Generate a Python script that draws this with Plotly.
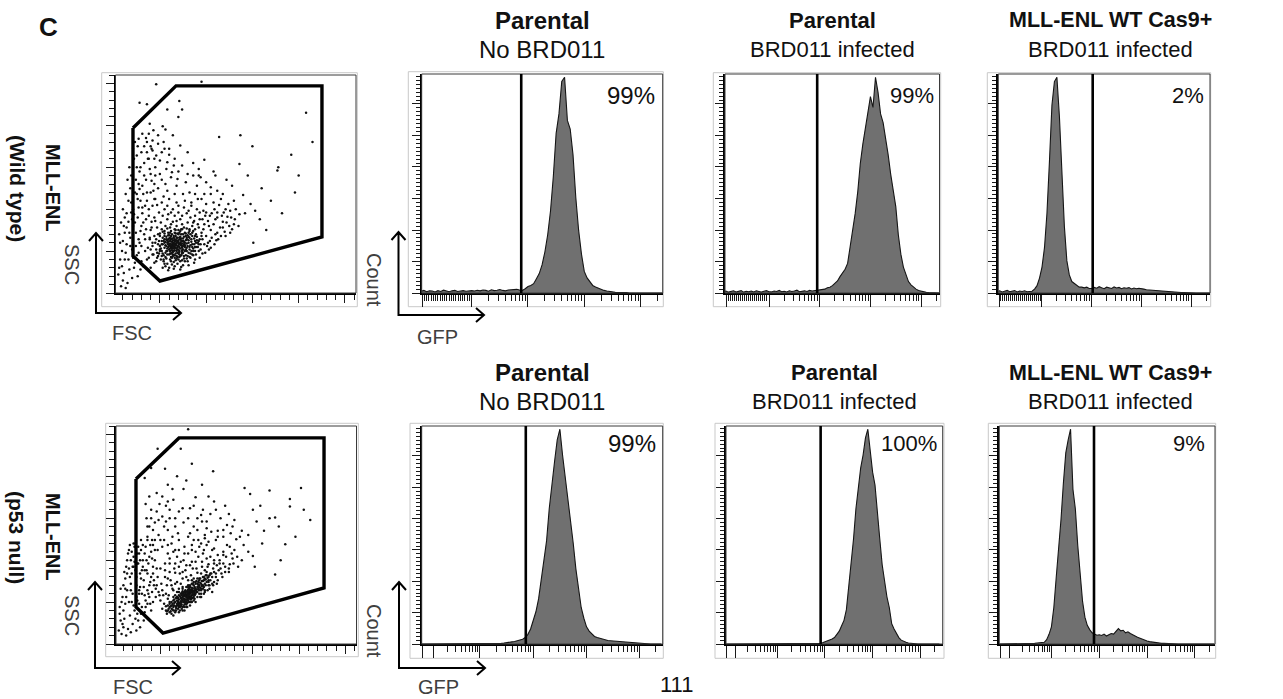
import math
import plotly.graph_objects as go

W, H = 1283, 699
FONT = "Liberation Sans, Arial, Helvetica, sans-serif"

# ------------------------------------------------------------------ data
# Dot plots: (FSC, SSC) events, in thousands
WT_EVENTS = [
    (62,55),(66,58),(70,52),(58,60),(73,57),(68,63),(64,49),(75,62),(60,52),(71,66),
    (67,54),(63,61),(77,55),(69,48),(56,57),(72,60),(65,66),(79,59),(61,47),(74,51),
    (68,57),(59,64),(76,67),(66,45),(70,59),(63,53),(81,63),(57,50),(73,70),(65,56),
    (69,61),(62,43),(78,52),(54,62),(71,55),(67,68),(60,58),(75,48),(64,63),(80,56),
    (58,46),(72,64),(66,51),(55,54),(77,60),(69,71),(63,58),(74,56),(61,62),(82,66),
    (68,50),(57,67),(70,63),(65,60),(79,50),(59,55),(73,45),(67,59),(62,68),(76,58),
    (84,61),(53,58),(71,50),(64,46),(80,69),(58,63),(69,55),(75,65),(66,62),(61,50),
    (87,65),(72,53),(56,61),(68,66),(63,42),(78,63),(60,69),(74,59),(70,47),(65,53),
    (85,58),(52,50),(83,70),(88,62),(50,56),(66,72),(72,74),(59,72),(77,72),(90,67),
    (54,45),(62,38),(70,40),(76,44),(49,62),(86,53),(81,48),(57,41),(67,39),(91,60),
    (64,57),(69,52),(71,58),(66,64),(60,56),(74,54),(67,47),(63,65),(72,67),(77,57),
    (58,53),(70,56),(65,50),(68,60),(73,62),(61,59),(75,52),(62,64),(79,64),(56,48),
    (67,62),(71,46),(64,60),(69,66),(74,49),(59,58),(78,68),(66,55),(72,58),(63,51),
    (60,65),(81,60),(68,44),(57,56),(76,61),(65,68),(70,70),(73,65),(62,47),(83,57),
    (47,42),(49,47),(51,53),(48,58),(46,64),(50,71),(53,66),(55,60),(52,44),(54,38),
    (58,35),(61,40),(65,37),(69,43),(72,38),(76,41),(80,44),(83,47),(86,50),(89,55),
    (92,58),(88,68),(85,72),(82,74),(79,77),(74,76),(70,75),(66,76),(62,74),(58,77),
    (55,71),(53,73),(57,64),(59,69),(61,66),(63,70),(67,71),(71,72),(75,70),(78,71),
    (81,67),(84,64),(87,58),(90,63),(93,64),(91,55),(88,50),(85,46),(82,43),(79,41),
    (74,39),(71,43),(68,41),(64,44),(60,46),(56,43),(53,47),(50,52),(52,58),(55,64),
    (58,50),(61,53),(64,55),(67,57),(70,61),(73,59),(76,56),(79,54),(82,52),(85,55),
    (77,50),(74,47),(71,49),(68,53),(65,58),(62,57),(59,61),(63,48),(66,42),(72,44),
    (95,72),(100,68),(92,78),(105,75),(98,82),(110,70),(88,76),(102,86),(115,78),(96,64),
    (108,82),(120,73),(93,88),(112,90),(85,80),(118,85),(104,62),(125,80),(99,92),(89,70),
    (106,95),(116,68),(128,76),(94,58),(101,56),(111,63),(87,86),(123,91),(97,98),(83,90),
    (109,100),(119,96),(86,45),(92,50),(80,38),(75,33),(88,40),(96,47),(103,52),(66,32),
    (60,30),(72,28),(55,35),(48,44),(46,52),(50,68),(55,74),(61,78),(68,80),(76,78),
    (82,76),(64,85),(72,88),(58,88),(79,95),(90,100),(100,106),(84,104),(70,96),(62,96),
    (114,105),(126,98),(131,88),(95,112),(77,110),(105,118),(88,118),(68,108),(55,100),(60,112),
    (45,60),(48,70),(52,76),(47,48),(51,40),(56,32),(63,34),(69,35),(77,38),(83,42),
    (89,46),(94,52),(98,58),(102,60),(106,66),(112,72),(118,78),(122,84),(117,92),(110,88),
    (103,80),(97,76),(91,82),(86,74),(80,84),(74,82),(68,86),(62,82),(56,80),(51,84),
    (47,78),(44,68),(42,56),(43,46),(46,38),(53,30),(59,27),(65,29),(73,31),(81,33),
    (87,36),(93,42),(99,48),(105,54),(109,58),(113,64),(121,68),(126,72),(130,82),(127,90),
    (121,100),(112,96),(104,92),(96,88),(88,92),(81,98),(74,92),(66,92),(59,94),(53,92),
    (49,96),(45,86),(41,78),(39,66),(40,52),(84,50),(88,55),(92,62),(95,68),(89,60),
    (85,68),(81,72),(86,84),(93,96),(100,96),(108,108),(116,112),(124,106),(132,100),(136,94),
    (78,45),(82,55),(79,66),(73,76),(67,75),(61,72),(55,68),(52,62),(50,50),(54,40),
    (22,30),(25,45),(20,52),(28,60),(24,72),(30,80),(18,66),(26,90),(21,100),(29,110),
    (23,120),(27,130),(19,140),(25,150),(31,95),(16,85),(33,70),(14,58),(35,88),(12,40),
    (17,28),(30,38),(34,50),(26,20),(20,18),(11,24),(15,12),(8,8),(10,15),(13,6),
    (19,108),(32,118),(24,135),(28,145),(22,160),(30,168),(26,175),(18,125),(35,135),(33,155),
    (38,100),(40,75),(42,60),(38,42),(44,90),(40,120),(37,160),(45,140),(36,110),(41,85),
    (9,50),(12,72),(7,60),(14,95),(11,80),(16,110),(6,30),(21,80),(27,102),(31,128),
    (24,56),(27,64),(23,84),(29,74),(26,112),(22,94),(28,124),(31,102),(25,118),(20,88),
    (32,84),(34,64),(30,56),(27,48),(21,42),(18,56),(23,36),(29,28),(32,32),(36,40),
    (37,54),(39,64),(35,76),(38,92),(34,104),(36,120),(33,140),(29,150),(25,164),(21,172),
    (17,150),(15,135),(13,118),(10,100),(8,84),(6,70),(10,62),(13,48),(7,40),(5,22),
    (9,32),(16,40),(14,78),(19,96),(17,72),(12,90),(42,104),(43,122),(41,134),(39,148),
    (44,160),(41,172),(36,180),(31,190),(27,184),(23,180),(45,112),(42,46),(44,36),(40,30),
    (46,249),(28,227),(36,225),(71,229),(74,219),(58,219),(70,210),(39,202),(53,199),(43,194),
    (35,185),(48,178),(42,170),(55,172),(38,160),(50,158),(60,165),(45,150),(57,148),(65,152),
    (40,142),(52,135),(62,138),(70,145),(48,125),(58,122),(68,128),(78,132),(44,112),(54,115),
    (82,120),(75,118),(66,118),(86,140),(90,128),
    (47,105),(52,108),(58,104),(64,100),(70,104),(76,102),(84,108),(91,112),(98,118),(105,126),
    (112,122),(118,118),(100,132),(94,138),(80,142),(74,152),(66,160),(60,172),(54,180),(48,188),
    (42,182),(46,164),(52,168),(58,156),(63,144),(69,136),(56,130),(50,142),(44,130),(40,175),
    (36,168),(33,175),(38,190),(56,195),(64,188),(72,176),(80,168),(86,155),(92,148),(110,140),
    (114,186),(137,188),(150,175),(136,154),(178,150),(177,146),(192,165),(208,215),(151,60),(140,117),
    (148,106),(153,98),(122,135),(98,159),(92,140),(95,252),(130,110),(108,145),(142,95),(135,80),
    (128,128),(145,140),(160,125),(170,110),(158,88),(165,75),(182,95),(196,120),(200,140),(215,180),
]

P53_EVENTS = [
    (78,56),(74,52),(82,60),(70,48),(86,63),(76,58),(80,52),(72,55),(84,58),(68,46),
    (88,66),(75,50),(81,62),(73,58),(79,49),(85,55),(71,44),(90,68),(77,61),(83,53),
    (66,50),(87,60),(74,56),(80,65),(69,42),(92,70),(76,47),(84,67),(72,51),(78,59),
    (62,42),(89,62),(75,54),(81,57),(67,45),(94,72),(79,55),(86,70),(73,47),(77,64),
    (64,40),(91,65),(70,53),(83,61),(76,44),(88,72),(82,55),(74,60),(69,50),(85,66),
    (60,44),(93,67),(78,51),(80,60),(71,49),(96,75),(75,45),(87,58),(66,40),(79,63),
    (63,48),(84,64),(72,45),(90,72),(77,53),(81,50),(68,52),(86,56),(74,63),(98,78),
    (65,46),(82,68),(70,58),(88,64),(76,52),(79,58),(61,39),(95,70),(73,53),(84,50),
    (67,55),(89,75),(78,47),(83,65),(71,40),(92,64),(75,61),(80,56),(64,52),(87,68),
    (100,74),(97,68),(102,80),(94,64),(99,70),(104,76),(93,78),(58,40),(56,45),(62,36),
    (77,57),(81,59),(73,50),(85,61),(79,53),(75,57),(83,57),(70,46),(87,64),(76,54),
    (72,48),(80,63),(78,50),(84,55),(74,44),(82,64),(69,47),(86,59),(77,60),(91,69),
    (56,40),(58,46),(60,38),(62,50),(64,44),(66,38),(68,56),(70,44),(72,60),(74,40),
    (76,62),(78,44),(80,68),(82,50),(84,72),(86,52),(88,74),(90,56),(92,76),(94,60),
    (96,80),(98,64),(100,82),(102,70),(104,84),(106,72),(108,86),(96,70),(92,68),(88,60),
    (84,62),(80,58),(76,50),(72,46),(68,48),(64,46),(60,48),(66,58),(70,62),(74,66),
    (78,68),(82,70),(86,74),(90,62),(94,66),(98,72),(102,76),(79,61),(81,54),(77,49),
    (73,55),(69,51),(65,49),(63,41),(67,43),(71,57),(75,59),(83,63),(87,67),(91,71),
    (95,75),(99,77),(85,59),(89,65),(93,73),(97,76),(101,79),(103,82),(81,66),(77,63),
    (73,61),(69,55),(65,53),(61,45),(59,42),(57,39),(83,56),(87,62),(91,66),(95,69),
    (105,84),(110,80),(98,88),(115,90),(102,95),(120,86),(108,100),(95,92),(125,95),(112,106),
    (90,85),(118,110),(128,102),(100,102),(134,92),(106,112),(88,98),(122,118),(96,108),(130,112),
    (85,90),(114,96),(138,100),(92,78),(62,70),(58,78),(55,88),(66,85),(70,92),(60,96),
    (75,100),(80,108),(68,104),(52,64),(56,60),(64,64),(72,72),(78,80),(84,76),(74,86),
    (82,94),(88,110),(94,120),(102,122),(76,116),(66,112),(58,108),(86,124),(110,124),(118,128),
    (140,118),(132,125),(126,132),(112,135),(98,130),(90,136),(80,128),(70,124),(62,120),(107,90),
    (117,80),(124,86),(103,70),(108,74),(97,60),(101,64),(111,72),(94,56),(99,82),(106,62),
    (60,50),(64,56),(68,62),(58,54),(54,48),(52,42),(57,36),(64,34),(70,38),(76,40),
    (82,46),(88,50),(93,56),(98,62),(103,66),(107,70),(112,76),(116,84),(120,92),(113,88),
    (106,80),(100,86),(94,84),(90,78),(85,72),(80,70),(74,68),(70,66),(66,72),(61,76),
    (57,70),(53,58),(50,52),(48,62),(51,72),(55,80),(60,86),(65,90),(71,84),(77,88),
    (83,82),(89,90),(95,98),(101,92),(108,96),(114,100),(121,104),(127,108),(133,104),(129,96),
    (124,90),(118,96),(111,94),(104,104),(97,112),(91,104),(84,98),(78,94),(72,98),(66,96),
    (60,102),(55,96),(50,90),(47,80),(46,70),(49,58),(92,60),(96,66),(87,54),(83,50),
    (79,44),(73,42),(67,40),(62,46),(59,58),(63,66),(68,74),(74,78),(80,76),(86,78),
    (91,74),(97,80),(102,74),(110,84),(118,106),(125,116),(108,114),(100,118),(92,116),(84,112),
    (22,40),(25,52),(20,60),(28,68),(24,80),(30,88),(18,72),(26,96),(21,104),(29,112),
    (23,120),(32,76),(16,90),(33,58),(14,64),(35,100),(12,48),(17,34),(30,44),(34,52),
    (26,28),(20,24),(11,30),(15,18),(8,12),(10,20),(13,10),(19,84),(31,118),(27,108),
    (38,70),(40,80),(42,92),(38,56),(44,100),(40,110),(36,84),(45,66),(41,62),(37,96),
    (9,56),(12,78),(7,66),(14,100),(11,86),(16,112),(6,36),(21,92),(27,60),(31,100),
    (24,70),(19,50),(28,84),(33,88),(22,116),(18,100),(25,36),(36,64),(43,76),(39,48),
    (24,56),(27,64),(23,88),(29,78),(26,116),(22,98),(28,100),(31,92),(25,108),(20,92),
    (32,68),(34,44),(30,60),(27,48),(21,46),(18,64),(23,30),(29,36),(32,28),(36,48),
    (37,60),(39,74),(35,88),(38,104),(34,116),(36,124),(33,108),(29,124),(25,96),(21,120),
    (17,118),(15,108),(13,92),(10,70),(8,50),(6,44),(10,40),(13,56),(7,28),(5,16),
    (9,24),(16,50),(14,84),(19,110),(17,80),(12,66),(42,84),(43,70),(41,102),(39,118),
    (44,112),(41,124),(46,90),(45,56),(42,50),(40,40),(24,16),(18,14),(28,20),(33,38),
    (47,233),(72,233),(55,209),(78,195),(63,185),(34,167),(49,167),(56,165),(107,206),(80,256),
    (40,160),(52,152),(44,145),(60,150),(70,158),(82,162),(90,150),(66,140),(75,145),(58,136),
    (48,130),(38,140),(86,140),(95,146),(104,155),(115,150),(122,142),(130,148),(100,138),(110,160),
    (36,128),(54,124),(42,118),(35,150),(46,180),(64,172),(88,175),(120,165),(75,185),(95,190),
    (33,198),(68,200),(40,210),(58,190),(84,215),
    (47,112),(52,116),(58,118),(64,110),(70,112),(76,108),(84,118),(91,124),(98,126),(105,134),
    (112,128),(118,136),(100,146),(94,154),(80,150),(74,162),(66,150),(60,160),(54,140),(48,148),
    (42,136),(46,158),(52,176),(58,170),(63,128),(69,132),(56,146),(50,124),(44,124),(40,150),
    (36,140),(38,176),(128,140),(136,128),(124,155),(108,170),(96,160),(86,165),(82,132),(102,176),
    (141,186),(147,179),(168,183),(202,186),(190,173),(190,164),(212,148),(174,151),(185,119),(174,83),
    (154,146),(145,130),(160,120),(150,105),(138,135),
    (145,110),(152,92),(162,135),(168,150),(178,140),(196,128),(205,160),(158,165),(180,100),(150,160),
]

GATE_WT_FSC = [20.9, 67.4, 225.2, 225.2, 50.1, 20.9, 20.9]
GATE_WT_SSC = [196.9, 247.0, 247.0, 66.8, 14.3, 44.2, 196.9]
GATE_P53_FSC = [23.6, 70.1, 226.9, 226.9, 52.8, 23.6, 23.6]
GATE_P53_SSC = [196.9, 245.8, 245.8, 66.8, 13.1, 44.2, 196.9]

# GFP histograms: % of mode per bin; bins centred on log10(GFP) = BIN_START + i*BIN_STEP
BIN_START = -0.10
BIN_STEP = 0.05
HIST_WT_PARENTAL = [
    0, 0, 0, 0,
    0.8, 1.2, 0.6, 1.0, 0.9, 0.5, 1.1, 0.7, 1.3, 0.8, 0.6, 1.0, 1.2, 0.7, 0.9, 1.1, 0.8, 1.0,
    1.1, 0.9, 1.3, 1.0, 1.4, 1.2, 0.8, 1.5, 1.1, 1.3, 1.6, 1.2, 1.0, 1.4, 1.5, 1.3, 1.7, 1.4,
    1.2, 2.0, 3.0, 3.5, 4.3, 6.6, 9, 13, 19, 27, 38, 54, 74, 83, 98, 100, 80, 76, 64, 44,
    29, 18, 10, 7, 5, 3.5, 2.8, 2.2, 1.5, 1.2, 0.9, 0.6, 0.5, 0.3,
    0.2, 0.3, 0.1, 0.2, 0, 0.1, 0, 0, 0, 0, 0, 0, 0, 0, 0, 0, 0,
]
HIST_WT_INFECTED = [
    0, 0, 0, 0,
    0.6, 0.9, 0.4, 0.8, 1.0, 0.5, 0.7, 1.1, 0.4, 0.8, 0.6, 0.9, 0.5, 1.0, 0.7, 0.4, 0.8, 1.1, 0.6,
    0.5, 0.9, 0.7, 1.2, 0.6, 0.8, 0.5, 1.0, 0.7, 0.9, 1.3, 0.6, 0.8, 1.0, 0.7, 1.2, 0.9, 1.1, 1.0,
    1.2, 1.5, 1.8, 2.4, 2.7, 3.4, 4.3, 5.6, 7.6, 9.2, 11, 13.7, 21, 29, 37, 47, 60, 69, 76, 84,
    91, 86, 100, 93, 83, 79, 72, 64, 55, 47, 40, 27, 18, 12, 8.4, 5.3, 3.8, 2.7, 1.8, 1.2,
    0.8, 0.5, 0.3,
    0.2, 0.1, 0, 0, 0, 0,
]
HIST_WT_CAS9 = [
    0, 0, 0, 0,
    0.7, 1.0, 0.5, 0.9, 1.2, 0.6, 0.8, 1.1, 0.5, 0.9, 0.7, 1.0, 0.6, 0.8,
    0.8, 1.8, 3.4, 6.9, 12, 21, 37, 61, 87, 98, 100, 82, 58, 31, 15, 8.4, 5.3, 4.3, 3.4, 2.7,
    2.7, 2.4, 2.7, 2.1, 2.1,
    2.6, 2.2, 2.9, 2.4, 2.0, 2.7, 2.5, 2.1, 2.8, 2.3, 2.6, 2.0, 2.4, 2.2, 2.5, 1.9, 2.3, 2.0, 2.2, 2.1,
    1.8, 1.5, 1.4, 1.2, 1.0, 0.9, 0.8, 0.8, 0.7, 0.6, 0.5, 0.5, 0.4, 0.3,
    0.3, 0.2, 0.2, 0.1, 0.1, 0, 0, 0, 0, 0, 0, 0, 0, 0,
]
HIST_P53_PARENTAL = [
    0, 0, 0, 0, 0, 0, 0.1, 0, 0, 0.1, 0, 0, 0, 0.1, 0, 0, 0.2, 0, 0.1, 0,
    0, 0.2, 0.1, 0, 0.1, 0.2, 0, 0.1, 0.3, 0.2, 0.3, 0.4, 0.5, 0.7,
    1.0, 1.2, 1.5, 1.8, 2.2, 3.0, 4.5, 7, 11, 15, 21, 30, 38, 48, 63, 75, 85, 95, 100, 88,
    78, 68, 56, 47, 35, 25, 17, 12, 8, 6, 4.5, 3.5, 3, 2.6, 2.2, 2.0, 1.6, 1.5, 1.4, 1.2,
    1.0, 0.9, 0.7, 0.6, 0.5, 0.4, 0.3, 0.3, 0.2,
    0.1, 0.1, 0, 0, 0, 0, 0, 0,
]
HIST_P53_INFECTED = [
    0, 0, 0, 0, 0, 0, 0, 0, 0, 0, 0, 0, 0, 0.1, 0, 0, 0, 0, 0, 0,
    0.1, 0, 0, 0, 0, 0, 0, 0, 0.1, 0, 0, 0, 0, 0, 0, 0.1, 0, 0.1, 0.2, 0.2,
    0.3, 0.6, 1.0, 1.2, 1.8, 2.3, 3.0, 4.3, 6, 8.5, 11, 16, 26, 37, 49, 63, 74, 82, 88, 96,
    100, 90, 80, 74, 60, 49, 37, 29, 22, 17, 9.5, 7, 5, 3, 1.8, 1.2, 0.8, 0.5, 0.3, 0.2, 0.1,
    0, 0, 0, 0, 0, 0, 0, 0, 0, 0,
]
HIST_P53_CAS9 = [
    0, 0, 0, 0, 0, 0, 0, 0, 0, 0.1, 0, 0, 0.1, 0, 0.2, 0.3,
    0.5, 0.5, 0.6, 0.8, 2.0, 4.5, 8, 17, 31, 43, 58, 75, 89, 95, 100, 72, 63, 46, 32, 20,
    12.5, 8.7, 6.7, 5.2, 4.6, 4.1, 4.3, 4.0, 4.6, 3.7, 4.3, 4.9, 4.6, 6.1, 7.2, 6.1, 6.4, 5.2, 5.7,
    4.9, 4.1, 3.7, 3.1, 2.6, 2.1, 1.8, 1.4, 1.1, 0.9, 0.6, 0.5, 0.4, 0.3, 0.3, 0.2,
    0.1, 0.1, 0, 0, 0, 0, 0, 0, 0, 0, 0, 0, 0, 0, 0, 0, 0, 0, 0, 0,
]
HISTOGRAMS = [HIST_WT_PARENTAL, HIST_WT_INFECTED, HIST_WT_CAS9,
              HIST_P53_PARENTAL, HIST_P53_INFECTED, HIST_P53_CAS9]
GFP_GATES = [1.88, 1.95, 2.02, 1.86, 1.91, 1.89]
PCT_POSITIVE = ["99%", "99%", "2%", "99%", "100%", "9%"]
COL_TITLES = ["Parental", "Parental", "MLL-ENL WT Cas9+"]
COL_SUBTITLES = ["No BRD011", "BRD011 infected", "BRD011 infected"]
ROW_NAMES = [("MLL-ENL", "(Wild type)"), ("MLL-ENL", "(p53 null)")]

# ------------------------------------------------------------------ layout geometry (pixels)
def PX(px):
    return px / W


def PY(py):
    return 1 - py / H


DOT_BOXES = [(115.5, 75, 356, 293), (116, 426, 356.5, 644)]
DOT_FRAMES = [(101.7, 72.7, 357.3, 306.7), (105.7, 423.3, 358.3, 656.7)]
HIST_BOXES = [(421.7, 74, 662.7, 293), (725, 74, 939.5, 293), (998.3, 74, 1210, 293),
              (421.7, 426, 662.7, 644), (726, 426, 942.7, 644), (999.3, 426, 1215, 644)]
HIST_FRAMES = [(408.3, 71.7, 663.3, 306.7), (713.3, 72.7, 940.7, 306.7), (987.3, 72.7, 1210.7, 306.7),
               (410, 423.3, 663.3, 658.3), (715, 423.3, 944, 658.3), (988.3, 423.3, 1215.7, 658.3)]
HIST_XRANGES = [(0.112, 4.393), (0.132, 4.362), (0.121, 4.38),
                (-0.094, 4.43), (-0.075, 4.47), (-0.09, 4.42)]

fig = go.Figure()
layout = dict(width=W, height=H, margin=dict(l=0, r=0, t=0, b=0),
              paper_bgcolor="white", plot_bgcolor="white", showlegend=False,
              shapes=[], annotations=[])


def dom(box):
    l, t, r, b = box
    return [PX(l), PX(r)], [PY(b), PY(t)]


def rect_paper(fr, color="#c9c9c9", width=1):
    l, t, r, b = fr
    return dict(type="rect", xref="paper", yref="paper", x0=PX(l), x1=PX(r), y0=PY(b), y1=PY(t),
                line=dict(color=color, width=width), layer="below")


def axis_common():
    return dict(showgrid=False, zeroline=False, showline=True, linecolor="black", linewidth=2,
                ticks="outside", tickcolor="#1a1a1a", showticklabels=False, fixedrange=True)


dot_ids = [1, 5]
events_list = [WT_EVENTS, P53_EVENTS]
gates = [(GATE_WT_FSC, GATE_WT_SSC), (GATE_P53_FSC, GATE_P53_SSC)]
for k, aid in enumerate(dot_ids):
    xd, yd = dom(DOT_BOXES[k])
    sfx = "" if aid == 1 else str(aid)
    xa = axis_common(); xa.update(domain=xd, range=[2, 262], anchor="y" + sfx, tickmode="linear",
                                  tick0=0, dtick=50, ticklen=8, tickwidth=1.2,
                                  minor=dict(tick0=0, dtick=10, ticks="outside", ticklen=5,
                                             tickwidth=1.1, tickcolor="#1a1a1a"))
    ya = axis_common(); ya.update(domain=yd, range=[0, 260], anchor="x" + sfx, tickmode="linear",
                                  tick0=0, dtick=50, ticklen=8, tickwidth=1.2,
                                  minor=dict(tick0=0, dtick=10, ticks="outside", ticklen=5,
                                             tickwidth=1.1, tickcolor="#1a1a1a"))
    layout["xaxis" + sfx] = xa
    layout["yaxis" + sfx] = ya
    ev = events_list[k]
    fig.add_trace(go.Scatter(x=[p[0] for p in ev], y=[p[1] for p in ev], mode="markers",
                             marker=dict(size=2.5, color="#111111", line=dict(width=0)),
                             xaxis="x" + sfx, yaxis="y" + sfx, hoverinfo="skip"))
    gx, gy = gates[k]
    fig.add_trace(go.Scatter(x=gx, y=gy, mode="lines", line=dict(color="black", width=3.4),
                             xaxis="x" + sfx, yaxis="y" + sfx, hoverinfo="skip"))
    layout["shapes"].append(rect_paper(DOT_FRAMES[k]))
    layout["shapes"].append(dict(type="rect", xref="x" + sfx + " domain", yref="y" + sfx + " domain",
                                 x0=0, x1=1, y0=0, y1=1, line=dict(color="#3a3a3a", width=1)))

hist_ids = [2, 3, 4, 6, 7, 8]
centres = [BIN_START + BIN_STEP * i for i in range(len(HIST_WT_PARENTAL))]


def log_minors(start_decade, end, lo):
    vals = []
    for d in range(start_decade, 5):
        for m in range(2, 10):
            v = d + math.log10(m)
            if lo < v < end:
                vals.append(v)
    return vals


for k, aid in enumerate(hist_ids):
    sfx = str(aid)
    xd, yd = dom(HIST_BOXES[k])
    lo, hi = HIST_XRANGES[k]
    if k < 3:
        major = [lo + 0.02, 1, 2, 3, 4]
        minor = [0.16 + 0.04 * j for j in range(21)] + log_minors(1, hi - 0.01, lo)
    else:
        major = [lo + 0.02, 0.12, 1, 2, 3, 4]
        minor = [0.12 + 0.88 * math.log10(m) for m in range(2, 10)] + log_minors(1, hi - 0.01, lo)
    xa = axis_common(); xa.update(domain=xd, range=[lo, hi], anchor="y" + sfx, tickmode="array",
                                  tickvals=major, ticklen=12, tickwidth=1.3,
                                  minor=dict(tickmode="array", tickvals=minor, ticks="outside",
                                             ticklen=6, tickwidth=1.1, tickcolor="#1a1a1a"))
    ya = axis_common(); ya.update(domain=yd, range=[0, 101.5], anchor="x" + sfx, tickmode="linear",
                                  tick0=0, dtick=14.6, ticklen=8, tickwidth=1.2,
                                  minor=dict(tick0=0, dtick=1.825, ticks="outside", ticklen=4,
                                             tickwidth=1.0, tickcolor="#1a1a1a"))
    layout["xaxis" + sfx] = xa
    layout["yaxis" + sfx] = ya
    fig.add_trace(go.Scatter(x=centres, y=HISTOGRAMS[k], mode="lines",
                             line=dict(color="#151515", width=1.1), fill="tozeroy",
                             fillcolor="#707070", xaxis="x" + sfx, yaxis="y" + sfx,
                             hoverinfo="skip"))
    layout["shapes"].append(rect_paper(HIST_FRAMES[k]))
    layout["shapes"].append(dict(type="rect", xref="x" + sfx + " domain", yref="y" + sfx + " domain",
                                 x0=0, x1=1, y0=0, y1=1, line=dict(color="#3a3a3a", width=1)))
    layout["shapes"].append(dict(type="line", xref="x" + sfx, yref="y" + sfx + " domain",
                                 x0=GFP_GATES[k], x1=GFP_GATES[k], y0=0, y1=1,
                                 line=dict(color="black", width=2.6)))


def note(text, px, py, size, bold=False, color="#111111", angle=0, xanchor="center"):
    return dict(text=("<b>%s</b>" % text) if bold else text, x=PX(px), y=PY(py),
                xref="paper", yref="paper", showarrow=False, textangle=angle,
                xanchor=xanchor, yanchor="middle",
                font=dict(family=FONT, size=size, color=color))


ann = layout["annotations"]
ann.append(note("C", 49, 27, 26, bold=True))

title_cx = [[542, 832, 1110], [542, 834, 1110]]
title_y = [(20.5, 49.5), (372.5, 401)]
for r in range(2):
    for c in range(3):
        size = 24 if c == 0 else 22
        tsize = 24 if c == 0 else (22 if c == 1 else 21.5)
        ann.append(note(COL_TITLES[c], title_cx[r][c], title_y[r][0], tsize, bold=True))
        ann.append(note(COL_SUBTITLES[c], title_cx[r][c], title_y[r][1], size))

pct_pos = [(657, 95.5), (936, 95.5), (1206, 95.5), (658, 443.5), (939, 443.5), (1207, 443.5)]
for k in range(6):
    size = 24 if k % 3 == 0 else 22
    ann.append(note(PCT_POSITIVE[k], pct_pos[k][0], pct_pos[k][1], size, xanchor="right"))

row_cy = [188, 537]
for r in range(2):
    ann.append(note(ROW_NAMES[r][0], 53, row_cy[r], 20, bold=True, angle=90))
    ann.append(note(ROW_NAMES[r][1], 17, row_cy[r], 21, bold=True, angle=90))

grey = "#404040"
for (txt, px, py) in [("SSC", 72, 264), ("Count", 374, 280), ("SSC", 72, 615), ("Count", 374, 631)]:
    ann.append(note(txt, px, py, 20, color=grey, angle=90))
for (txt, px, py) in [("FSC", 132, 333), ("GFP", 437, 337), ("FSC", 133, 687), ("GFP", 438, 687)]:
    ann.append(note(txt, px, py, 20, color=grey))
ann.append(note("111", 676, 684, 22, color="#111111"))


def arrow_shape(cx, cy, ty, tx):
    def p(x, y):
        return "%.5f,%.5f" % (PX(x), PY(y))
    path = ("M " + p(cx, ty) + " L " + p(cx, cy) + " L " + p(tx, cy) +
            " M " + p(cx - 7, ty + 8) + " L " + p(cx, ty) + " L " + p(cx + 7, ty + 8) +
            " M " + p(tx - 8, cy - 7) + " L " + p(tx, cy) + " L " + p(tx - 8, cy + 7))
    return dict(type="path", xref="paper", yref="paper", path=path,
                line=dict(color="black", width=2))


for (cx, cy, ty, tx) in [(96, 313, 233, 181), (398.5, 315, 232, 484),
                         (95, 668, 582, 180), (399, 668, 582, 485)]:
    layout["shapes"].append(arrow_shape(cx, cy, ty, tx))

fig.update_layout(**layout)
fig.write_html("out.html", config={"displayModeBar": False})
